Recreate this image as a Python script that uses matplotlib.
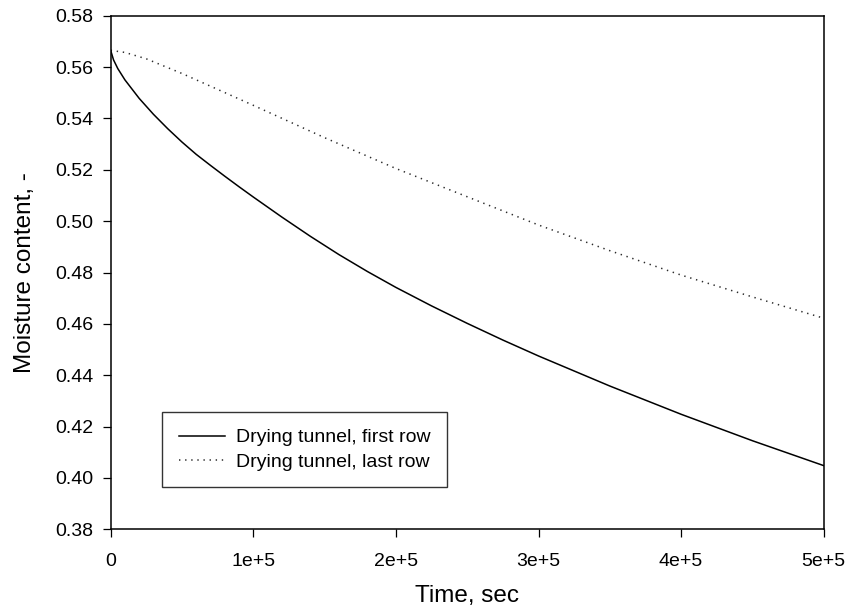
import matplotlib
matplotlib.use("Agg")
from matplotlib import pyplot as plt

t_first = [0, 2e3, 5e3, 1e4, 2e4, 3e4, 4e4, 5e4, 6e4, 7e4, 8e4, 9e4, 1e5,
           1.2e5, 1.4e5, 1.6e5, 1.8e5, 2e5, 2.25e5, 2.5e5, 2.75e5, 3e5,
           3.5e5, 4e5, 4.5e5, 5e5]
m_first = [0.5665, 0.5628, 0.5594, 0.5550, 0.5478, 0.5416, 0.5360, 0.5308,
           0.5260, 0.5217, 0.5175, 0.5134, 0.5094, 0.5016, 0.4941, 0.4870,
           0.4804, 0.4742, 0.4670, 0.4602, 0.4537, 0.4475, 0.4358, 0.4248,
           0.4145, 0.4048]

t_last = [0, 1e4, 2.5e4, 5e4, 7.5e4, 1e5, 1.25e5, 1.5e5, 1.75e5, 2e5,
          2.5e5, 3e5, 3.5e5, 4e5, 4.5e5, 5e5]
m_last = [0.5665, 0.5657, 0.5632, 0.5575, 0.5513, 0.5451, 0.5388, 0.5325,
          0.5265, 0.5205, 0.5095, 0.4985, 0.4885, 0.4790, 0.4705, 0.4622]

x_ticks = [0, 1e5, 2e5, 3e5, 4e5, 5e5]
x_ticklabels = ['0', '1e+5', '2e+5', '3e+5', '4e+5', '5e+5']
y_ticks = [0.38, 0.40, 0.42, 0.44, 0.46, 0.48, 0.50, 0.52, 0.54, 0.56, 0.58]

plt.rcParams['font.family'] = ['Liberation Sans', 'DejaVu Sans']

fig = plt.figure(figsize=(8.5, 6.13), dpi=100)
ax = fig.add_axes([0.1302, 0.1365, 0.9691 - 0.1302, 0.9744 - 0.1365])

ax.plot(t_first, m_first, color='black', lw=1.1, label='Drying tunnel, first row')
ax.plot(t_last, m_last, color='#2a2a2a', lw=1.1, linestyle=(0, (0.9, 3.1)),
        label='Drying tunnel, last row')

ax.set_xlim(0, 5e5)
ax.set_ylim(0.38, 0.58)
ax.set_xticks(x_ticks)
ax.set_xticklabels(x_ticklabels)
ax.set_yticks(y_ticks)
ax.set_yticklabels(['%.2f' % v for v in y_ticks])

ax.tick_params(axis='both', direction='out', length=5.8, width=0.9,
               labelsize=14, colors='black')
ax.tick_params(axis='x', pad=11)
ax.tick_params(axis='y', pad=6.5)
for s in ax.spines.values():
    s.set_linewidth(1.1)

ax.set_xlabel('Time, sec', fontsize=17.5, labelpad=11)
ax.set_ylabel('Moisture content, -', fontsize=17.5, labelpad=14)

leg = ax.legend(loc='lower left', bbox_to_anchor=(0.0724, 0.0818), fontsize=14,
                frameon=True, fancybox=False, borderpad=0.85, labelspacing=0.35,
                handlelength=2.37, handletextpad=0.57, borderaxespad=0)
leg.get_frame().set_edgecolor('black')
leg.get_frame().set_linewidth(1.0)

fig.savefig('out.png', dpi=100)
